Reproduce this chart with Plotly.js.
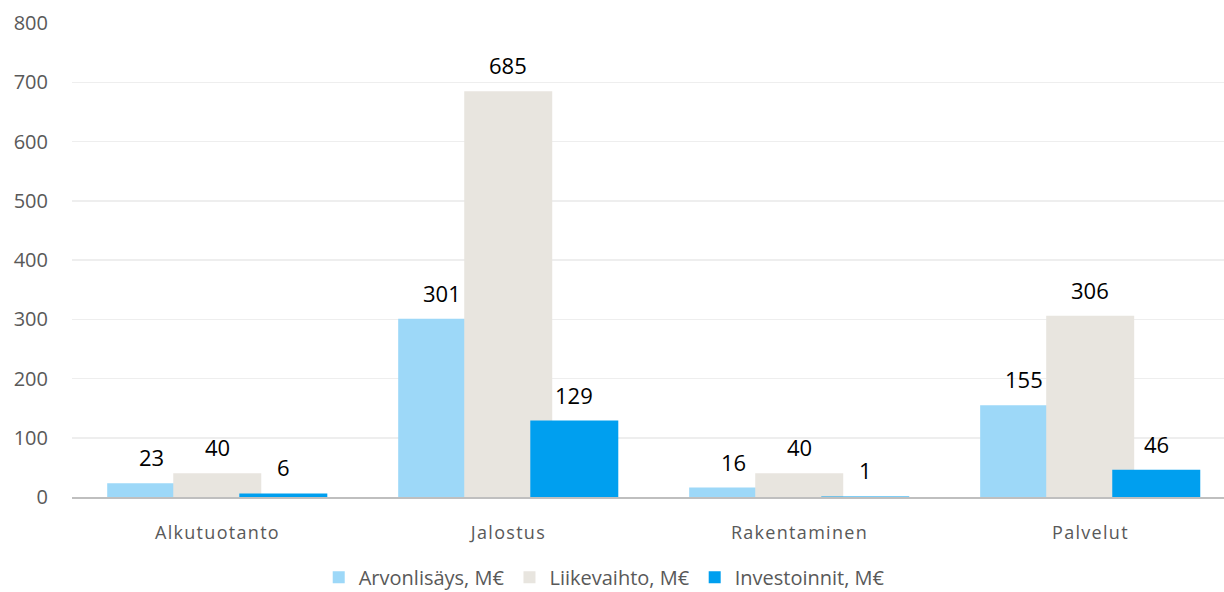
<!DOCTYPE html>
<html>
<head>
<meta charset="utf-8">
<script src="https://cdn.plot.ly/plotly-3.0.1.min.js"></script>
<style>
html,body{margin:0;padding:0;background:#fff;}
#chart{width:1224px;height:592px;}
#chart .xtick text{letter-spacing:1.3px;}
</style>
</head>
<body>
<div id="chart"></div>
<script>
const categories = ["Alkutuotanto", "Jalostus", "Rakentaminen", "Palvelut"];
const seriesNames = ["Arvonlisäys, M€", "Liikevaihto, M€", "Investoinnit, M€"];
const arvonlisays = [23, 301, 16, 155];
const liikevaihto = [40, 685, 40, 306];
const investoinnit = [6, 129, 1, 46];
const yTicks = [0, 100, 200, 300, 400, 500, 600, 700, 800];

const seriesValues = [arvonlisays, liikevaihto, investoinnit];
const colors = ["#9DD8F8", "#E8E5DF", "#009FEF"];
const barWidth = 0.3024;
const offsets = [-0.379, -0.152, 0.075];
const fontFamily = "'Open Sans', 'Noto Sans', sans-serif";

const traces = seriesValues.map((vals, s) => ({
  type: "bar",
  name: seriesNames[s],
  x: categories,
  y: vals,
  width: categories.map(() => barWidth),
  offset: categories.map(() => offsets[s]),
  marker: {color: colors[s], line: {width: 0}},
  hoverinfo: "none"
}));

const annotations = [];
seriesValues.forEach((vals, s) => {
  vals.forEach((v, i) => {
    annotations.push({
      x: i + offsets[s] + barWidth / 2,
      y: v,
      xref: "x", yref: "y",
      text: String(v),
      showarrow: false,
      xanchor: "center",
      yanchor: "middle",
      yshift: 26,
      font: {family: fontFamily, size: 22, color: "#000000"}
    });
  });
});

const layout = {
  width: 1224,
  height: 592,
  margin: {l: 72, r: 0, t: 23, b: 95, pad: 0},
  paper_bgcolor: "#ffffff",
  plot_bgcolor: "#ffffff",
  barmode: "overlay",
  showlegend: true,
  legend: {
    orientation: "h",
    xref: "paper",
    x: 0.462, xanchor: "center",
    yref: "container",
    y: 0.058, yanchor: "top",
    font: {family: fontFamily, size: 20, color: "#595959"},
    itemwidth: 30,
    traceorder: "normal",
    tracegroupgap: 0
  },
  xaxis: {
    type: "category",
    range: [-0.5, 3.459],
    showgrid: false,
    zeroline: false,
    showline: true,
    linecolor: "#BFBFBF",
    linewidth: 2,
    ticks: "",
    ticklabelstandoff: 18,
    tickfont: {family: fontFamily, size: 18, color: "#595959"},
    fixedrange: true
  },
  yaxis: {
    range: [0, 800],
    tickvals: yTicks,
    ticktext: yTicks.map(String),
    showgrid: true,
    gridcolor: "#EEEEEE",
    gridwidth: 1.5,
    zeroline: false,
    showline: false,
    ticks: "",
    ticklabelstandoff: 23,
    tickfont: {family: fontFamily, size: 20, color: "#595959"},
    fixedrange: true
  },
  annotations: annotations
};

Plotly.newPlot("chart", traces, layout, {displayModeBar: false, staticPlot: true});
</script>
</body>
</html>
